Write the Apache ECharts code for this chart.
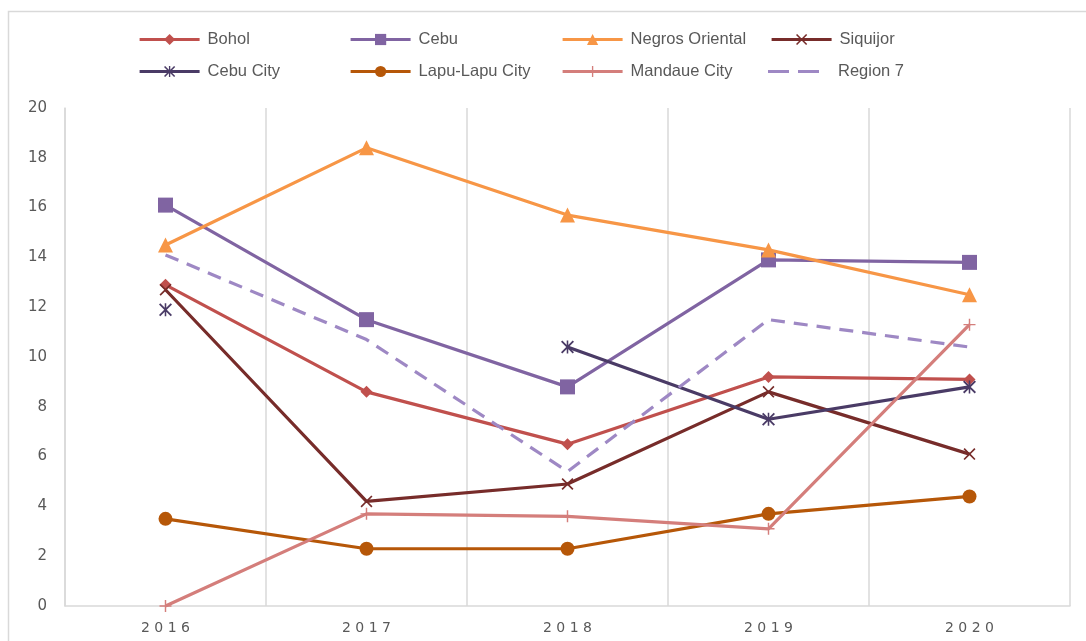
<!DOCTYPE html>
<html>
<head>
<meta charset="utf-8">
<script src="https://cdn.jsdelivr.net/npm/echarts@6/dist/echarts.min.js"></script>
<style>
html,body{margin:0;padding:0;background:#fff;}
#chart{width:1086px;height:641px;}
</style>
</head>
<body>
<div id="chart"></div>
<script>
const years = ['2016', '2017', '2018', '2019', '2020'];
const yTicks = { min: 0, max: 20, interval: 2 };

const bohol        = [12.9, 8.6, 6.5, 9.2, 9.1];
const cebu         = [16.1, 11.5, 8.8, 13.9, 13.8];
const negros       = [14.5, 18.4, 15.7, 14.3, 12.5];
const siquijor     = [12.7, 4.2, 4.9, 8.6, 6.1];
const cebuCity     = [11.9, null, 10.4, 7.5, 8.8];
const lapuLapu     = [3.5, 2.3, 2.3, 3.7, 4.4];
const mandaue      = [0, 3.7, 3.6, 3.1, 11.3];
const region7      = [14.1, 10.7, 5.4, 11.5, 10.4];

const seriesNames = ['Bohol', 'Cebu', 'Negros Oriental', 'Siquijor',
                     'Cebu City', 'Lapu-Lapu City', 'Mandaue City', 'Region 7'];

const X_PATH = 'path://M0,1 L1,0 L5,4 L9,0 L10,1 L6,5 L10,9 L9,10 L5,6 L1,10 L0,9 L4,5 Z';
const STAR_PATH = 'path://M0,1 L1,0 L5,4 L9,0 L10,1 L6,5 L10,9 L9,10 L5,6 L1,10 L0,9 L4,5 Z M4.4,0 L5.6,0 L5.6,10 L4.4,10 Z';
const PLUS_PATH = 'path://M4.4,0 L5.6,0 L5.6,4.4 L10,4.4 L10,5.6 L5.6,5.6 L5.6,10 L4.4,10 L4.4,5.6 L0,5.6 L0,4.4 L4.4,4.4 Z';
const DASH_ICON = 'path://M0,0 L21,0 L21,3 L0,3 Z M30,0 L51,0 L51,3 L30,3 Z';

const styles = [
  { data: bohol,    color: '#C0504D', symbol: 'diamond',  size: 12 },
  { data: cebu,     color: '#8064A2', symbol: 'rect',     size: 15 },
  { data: negros,   color: '#F79646', symbol: 'triangle', size: 15 },
  { data: siquijor, color: '#772C2A', symbol: X_PATH,     size: 12 },
  { data: cebuCity, color: '#4A3B66', symbol: STAR_PATH,  size: 13 },
  { data: lapuLapu, color: '#B65708', symbol: 'circle',   size: 14 },
  { data: mandaue,  color: '#D47E7B', symbol: PLUS_PATH,  size: 12 },
  { data: region7,  color: '#9E88C4', symbol: 'none',     size: 0, dashed: true }
];

const series = styles.map((s, i) => ({
  name: seriesNames[i],
  type: 'line',
  data: s.data,
  symbol: s.symbol,
  symbolSize: s.size,
  showSymbol: s.symbol !== 'none',
  connectNulls: false,
  color: s.color,
  itemStyle: { color: s.color },
  lineStyle: { color: s.color, width: 3.2, type: s.dashed ? [14, 9] : 'solid', cap: 'butt' },
  emphasis: { disabled: true },
  z: 2 + i
}));

const legendPos = [
  [138, 31], [349, 31], [561, 31], [770, 31],
  [138, 63], [349, 63], [561, 63], [768, 63]
];
const legends = seriesNames.map((n, i) => {
  const isDash = styles[i].dashed;
  return {
    data: isDash ? [{ name: n, icon: DASH_ICON }] : [n],
    left: legendPos[i][0],
    top: legendPos[i][1],
    padding: 0,
    itemWidth: isDash ? 51 : 60,
    itemHeight: isDash ? 3 : 14,
    selectedMode: false,
    lineStyle: { width: 3.2 },
    textStyle: {
      fontFamily: 'Liberation Sans', fontSize: 16.5, color: '#595959',
      padding: [0, 0, 0, isDash ? 14 : 3]
    }
  };
});

const chart = echarts.init(document.getElementById('chart'), null, { renderer: 'canvas' });
chart.setOption({
  animation: false,
  backgroundColor: '#fff',
  graphic: [{
    type: 'rect',
    shape: { x: 8.5, y: 11.5, width: 1100, height: 700 },
    style: { fill: 'none', stroke: '#D9D9D9', lineWidth: 1.5 },
    silent: true, z: -10
  }],
  legend: legends,
  grid: { left: 65, right: 16, top: 108, bottom: 35, containLabel: false },
  xAxis: {
    type: 'category',
    data: years,
    boundaryGap: true,
    axisLine: { show: true, lineStyle: { color: '#D9D9D9', width: 1.5 } },
    axisTick: { show: false },
    splitLine: { show: true, lineStyle: { color: '#D9D9D9', width: 1.5 } },
    axisLabel: {
      color: '#595959', fontFamily: 'DejaVu Sans', fontSize: 14, margin: 15,
      formatter: v => v.split('').join(' ')
    }
  },
  yAxis: {
    type: 'value',
    min: yTicks.min, max: yTicks.max, interval: yTicks.interval,
    axisLine: { show: true, lineStyle: { color: '#D9D9D9', width: 1.5 } },
    axisTick: { show: false },
    splitLine: { show: false },
    axisLabel: { color: '#595959', fontFamily: 'DejaVu Sans', fontSize: 15, margin: 18 }
  },
  series: series
});
</script>
</body>
</html>
